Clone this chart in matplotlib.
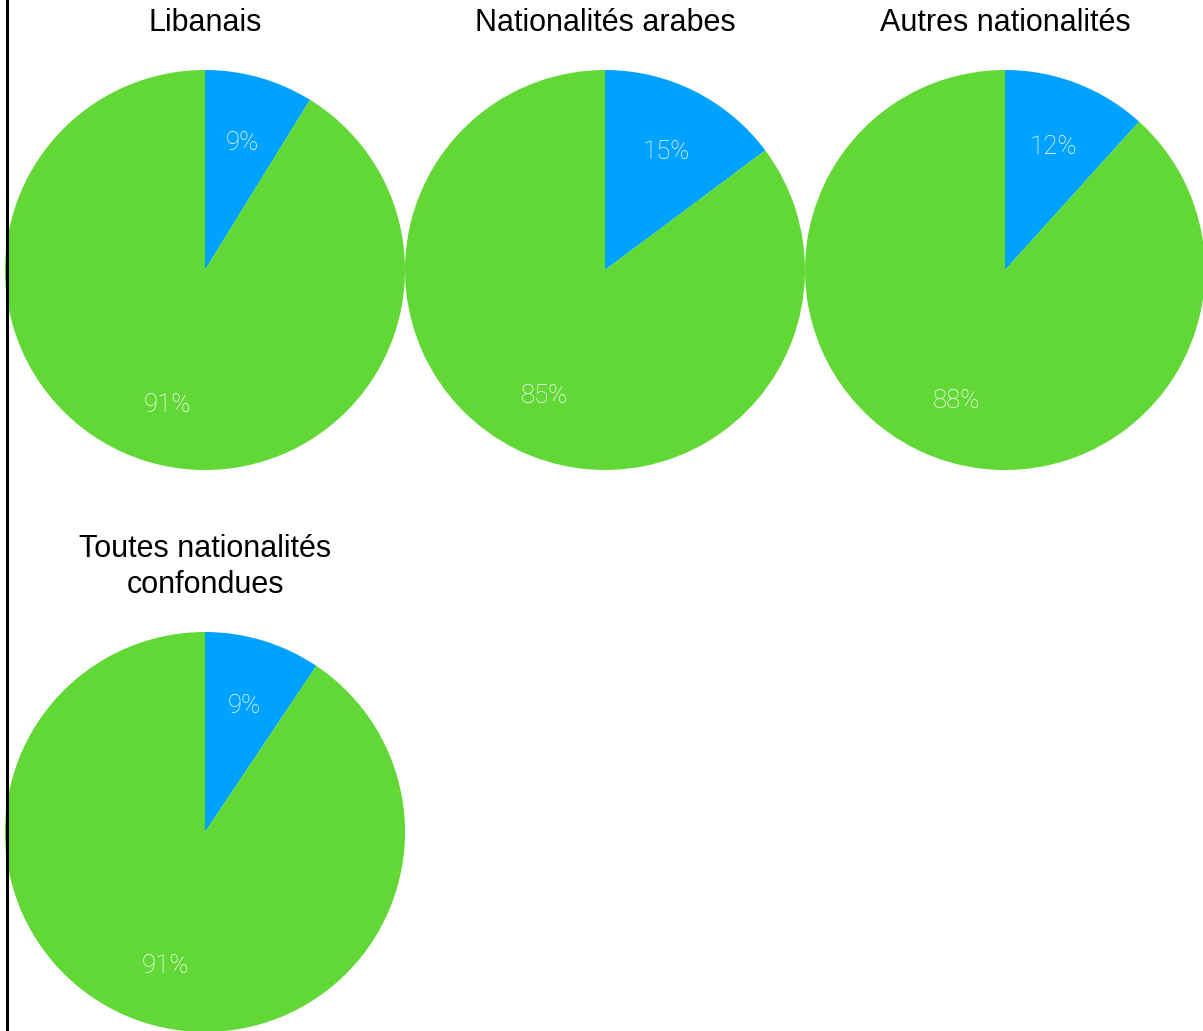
import matplotlib.pyplot as plt
from matplotlib.lines import Line2D

titles = ['Libanais', 'Nationalités arabes', 'Autres nationalités',
          'Toutes nationalités\nconfondues']
blue_share = [8.8, 14.8, 11.7, 9.4]   # percentages (blue slice)
green_share = [91.2, 85.2, 88.3, 90.6]

colors = ['#00A2FF', '#61D836']

W, H = 1203, 1031
fig = plt.figure(figsize=(W / 100, H / 100), dpi=100)

# pie centres in pixels (x, y from top), radius 200
centres = [(205, 270), (605, 270), (1005, 270), (205, 832)]
title_y = [23, 23, 23, 567]
R = 200

for i in range(4):
    cx, cy = centres[i]
    ax = fig.add_axes([(cx - R) / W, (H - cy - R) / H, 2 * R / W, 2 * R / H])
    wedges, texts, autotexts = ax.pie(
        [blue_share[i], green_share[i]], colors=colors, startangle=90,
        counterclock=False, autopct='%.0f%%', pctdistance=0.68,
        radius=1.0, wedgeprops=dict(linewidth=0),
        textprops=dict(color='white', fontsize=18.5, family='Roboto',
                       fontweight='light'))
    for t in autotexts:
        x, y = t.get_position()
        t.set_position((x, y - 0.02))
    ax.set_xlim(-1, 1)
    ax.set_ylim(-1, 1)
    ax.set_aspect('equal')
    ax.axis('off')
    fig.text(cx / W, 1 - title_y[i] / H, titles[i], ha='center', va='center',
             fontsize=22, family='Liberation Sans', linespacing=1.25)

# black line on the left edge
fig.add_artist(Line2D([6.5 / W, 6.5 / W], [0, 1], color='black', linewidth=2.2,
                      transform=fig.transFigure))

fig.savefig('out.png', dpi=100)
